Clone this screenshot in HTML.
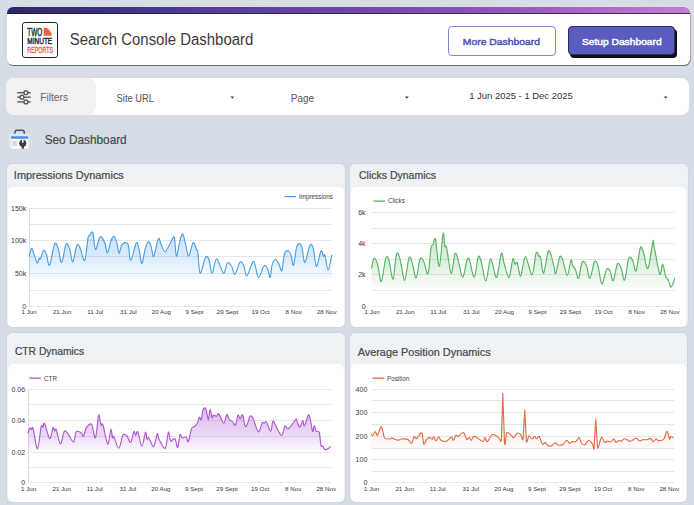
<!DOCTYPE html>
<html><head><meta charset="utf-8">
<style>
*{margin:0;padding:0;box-sizing:border-box}
html,body{width:694px;height:505px;overflow:hidden;background:#d6dde6;font-family:"Liberation Sans",sans-serif}
.abs{position:absolute}
#hdr{left:7px;top:7px;width:682.5px;height:58px;background:#fff;border-radius:6px;overflow:hidden;box-shadow:0.5px 1px 0.5px rgba(0,0,0,0.5)}
#hdr .bar{left:0;top:0;width:100%;height:7px;background:linear-gradient(90deg,#2c2966 0%,#3a3380 14%,#553d98 29%,#7048a8 52%,#9456b8 72%,#c47bd5 100%);border-bottom:1px solid rgba(30,25,50,0.75)}
#logo{left:22px;top:22px;width:36px;height:36px;border:1.5px solid #24232b;border-radius:3px;background:#fff}
#title{left:70px;top:28px;font-size:16px;color:#333;white-space:nowrap;letter-spacing:0px}
.btn1{left:448px;top:26px;width:108px;height:30px;border:1px solid #8084d4;border-radius:4px;color:#4d51b5;font-weight:bold;font-size:11px;text-align:center;line-height:28px}
.btn2{left:568px;top:26px;width:107px;height:29px;background:#5a5cc0;border:1px solid #2b2b55;border-radius:4px;color:#fff;font-weight:bold;font-size:11px;text-align:center;line-height:27px;box-shadow:2px 3px 0 #111}
#fbar{left:6px;top:78px;width:683px;height:37px;background:#fff;border-radius:8px}
#fsec{left:6px;top:78px;width:90px;height:37px;background:#f1f1f1;border-radius:8px}
.ft{font-size:10px;color:#555;white-space:nowrap}
.card{background:#eff2f5;border-radius:5px;box-shadow:0 0 1.5px rgba(0,0,0,0.15)}
.panel{background:#fff;border-radius:5px}
.ct{font-size:11.5px;color:#3c3c3c;white-space:nowrap}
svg text{font-family:"Liberation Sans",sans-serif}
.g{stroke:#e6e6e6;stroke-width:1}
.ax{stroke:#dcdcdc;stroke-width:1}
.yl{font-size:7px;fill:#383838;text-anchor:end}
.xl{font-size:6.2px;fill:#383838;text-anchor:middle}
.lg{font-size:6.3px;fill:#444}
</style></head><body>
<div id="hdr" class="abs"><div class="bar abs"></div></div>
<div id="logo" class="abs"></div>



<div id="fbar" class="abs"></div>
<div id="fsec" class="abs"></div>
<div class="abs btn1"></div>
<div class="abs btn2"></div>


<div class="abs card" style="left:7px;top:164px;width:338px;height:163px"></div>
<div class="abs panel" style="left:8px;top:187px;width:336px;height:140px"></div>
<div class="abs card" style="left:350px;top:164px;width:337.6px;height:163px"></div>
<div class="abs panel" style="left:351px;top:187px;width:335.4px;height:140px"></div>
<div class="abs card" style="left:7px;top:333px;width:338px;height:169px"></div>
<div class="abs panel" style="left:8px;top:364px;width:336px;height:138px"></div>
<div class="abs card" style="left:350px;top:333px;width:337.4px;height:169px"></div>
<div class="abs panel" style="left:351px;top:364px;width:335.2px;height:138px"></div>

<svg class="abs" style="left:0;top:0" width="694" height="505" viewBox="0 0 694 505">
<text x="27.3" y="35.5" font-size="11.6" font-weight="normal" stroke="#222" stroke-width="0.45" fill="#222" textLength="14.9" lengthAdjust="spacingAndGlyphs">TWO</text>
<path d="M43.6 35.8 V27.6 A8.2 8.2 0 0 1 51.8 35.8 Z" fill="#e8643a"/>
<text x="27.3" y="44.3" font-size="9.9" font-weight="normal" stroke="#222" stroke-width="0.45" fill="#222" textLength="24.9" lengthAdjust="spacingAndGlyphs">MINUTE</text>
<text x="27.3" y="53" font-size="9.8" font-weight="normal" stroke="#e8643a" stroke-width="0.4" fill="#e8643a" textLength="25.7" lengthAdjust="spacingAndGlyphs">REPORTS</text>
<g stroke="#5c5c5c" stroke-width="1.4" fill="none">
<line x1="17.2" y1="92.7" x2="30.7" y2="92.7"/><line x1="17.2" y1="97.2" x2="30.7" y2="97.2"/><line x1="17.2" y1="101.9" x2="30.7" y2="101.9"/>
<circle cx="25.9" cy="92.7" r="1.9" fill="#f1f1f1"/><circle cx="22" cy="97.2" r="1.9" fill="#f1f1f1"/><circle cx="25.9" cy="101.9" r="1.9" fill="#f1f1f1"/>
</g>
<path d="M230.4 96.6 h4 l-2 2.2 z" fill="#444"/>
<path d="M404.8 96.6 h4 l-2 2.2 z" fill="#444"/>
<path d="M663.6 96.6 h4 l-2 2.2 z" fill="#444"/>
<path d="M14.9 134 v-1.6 a2.2 2.2 0 0 1 2.2 -2.2 h5 a2.2 2.2 0 0 1 2.2 2.2 v1.6" stroke="#505050" stroke-width="1.5" fill="none"/>
<rect x="8.7" y="133.8" width="21.2" height="14.9" rx="0.8" fill="#e4e6e9"/>
<rect x="11.1" y="136.2" width="17" height="12.5" fill="#fbfbfc"/>
<rect x="11.1" y="136.2" width="17" height="2.6" fill="#4b8fe6"/>
<rect x="12.2" y="140.7" width="4.8" height="5.6" fill="#dadcdf"/>
<circle cx="22.8" cy="143.2" r="3.5" fill="#3c3c3c"/>
<rect x="22" y="139.4" width="1.6" height="3.2" fill="#fbfbfc"/>
<rect x="21.7" y="144" width="2.2" height="4.7" fill="#3c3c3c"/>
<line x1="29.1" y1="208.5" x2="331.7" y2="208.5" class="g"/>
<line x1="29.1" y1="224.5" x2="331.7" y2="224.5" class="g"/>
<line x1="29.1" y1="240.5" x2="331.7" y2="240.5" class="g"/>
<line x1="29.1" y1="256.5" x2="331.7" y2="256.5" class="g"/>
<line x1="29.1" y1="273.5" x2="331.7" y2="273.5" class="g"/>
<line x1="29.1" y1="290.5" x2="331.7" y2="290.5" class="g"/>
<line x1="29.1" y1="306.5" x2="331.7" y2="306.5" class="g"/>
<line x1="29.5" y1="208" x2="29.5" y2="307" class="ax"/>
<linearGradient id="gi" gradientUnits="userSpaceOnUse" x1="0" y1="232.7" x2="0" y2="277.7"><stop offset="0" stop-color="#4a9fe8" stop-opacity="0.300"/><stop offset="0.55" stop-color="#4a9fe8" stop-opacity="0.200"/><stop offset="1" stop-color="#4a9fe8" stop-opacity="0.045"/></linearGradient>
<path d="M29.2 256.5 C29.6 255.2 30.7 248.9 31.5 248.5 C32.3 248.1 32.9 251.7 33.9 254.1 C34.9 256.5 36.3 262.1 37.2 262.8 C38.1 263.5 38.8 258.8 39.3 258.1 C39.8 257.5 39.8 260.1 40.5 258.9 C41.2 257.6 42.4 251.4 43.4 250.6 C44.4 249.8 45.4 251.7 46.4 254.1 C47.4 256.5 48.2 266.9 49.6 265.2 C51 263.5 53.2 246.5 54.7 243.8 C56.2 241.1 57.1 245.7 58.3 248.8 C59.4 251.9 60.3 263.2 61.6 262.5 C62.9 261.8 64.7 246.6 66 244.3 C67.3 242 68.5 245.9 69.6 248.8 C70.7 251.7 71.6 262.4 72.8 261.9 C74 261.4 75.5 248.3 76.7 245.8 C77.9 243.3 78.4 244.6 79.7 247 C81 249.4 83.3 261.8 84.7 260.3 C86.1 258.8 87.2 242.3 88 238.1 C88.8 233.9 89 236 89.8 235.1 C90.6 234.2 91.8 230.3 92.8 232.7 C93.8 235.1 94.3 248.7 95.5 249.4 C96.7 250.1 98.5 237.8 100.1 236.7 C101.6 235.6 103.6 240.1 104.8 242.8 C106 245.5 106.4 253.1 107.4 252.9 C108.4 252.7 109.7 244.4 110.7 241.6 C111.8 238.8 112.7 236.3 113.7 236.3 C114.7 236.3 115.7 238.8 116.6 241.6 C117.5 244.4 118.1 252.8 119 253.3 C119.9 253.8 120.5 246.2 122 244.6 C123.5 243 126.5 241.2 127.9 243.8 C129.3 246.4 129.3 260.6 130.7 260.4 C132.1 260.2 134.9 244.5 136.3 242.8 C137.7 241.1 138.3 246.5 139.2 250 C140.1 253.5 140.9 263.8 141.9 263.6 C142.9 263.4 144.1 252.4 145.2 248.8 C146.3 245.2 147.5 242.3 148.5 241.9 C149.5 241.5 150.2 244 151.1 246.4 C152 248.8 152.5 257.8 153.7 256.5 C154.9 255.2 157.1 240.7 158.3 238.7 C159.6 236.7 160 242.4 161.2 244.6 C162.3 246.8 163.5 252.4 165.2 251.8 C166.9 251.2 169.8 243.5 171.3 241.1 C172.8 238.7 173.5 235 174.3 237.5 C175.2 240 175.5 255.6 176.4 256.2 C177.3 256.8 178.8 244.8 179.8 241.1 C180.9 237.4 181.7 233.3 182.7 233.9 C183.7 234.5 184.7 240.9 185.7 244.6 C186.7 248.3 187.5 256.5 188.7 256.2 C189.9 255.9 191.8 243.9 193.1 242.8 C194.4 241.7 195.6 247.8 196.4 249.4 C197.2 251 197.2 248.3 197.8 252.3 C198.4 256.3 198.9 272.3 200.2 273.2 C201.4 274.1 203.9 260 205.3 257.7 C206.8 255.4 207.8 256.9 208.9 259.5 C210 262.1 210.8 273.3 212.1 273.2 C213.4 273.1 214.7 258.9 216.6 258.9 C218.5 258.9 221.7 272.5 223.5 273.2 C225.3 273.9 226 264 227.3 262.8 C228.6 261.6 230.2 264.1 231.5 266 C232.8 267.9 233.6 275 235 274.3 C236.4 273.6 238.7 263.2 240.2 261.9 C241.7 260.6 242.9 264.3 244 266.6 C245.1 268.9 245.4 276.7 246.9 275.9 C248.4 275.1 251.5 263.2 252.9 261.6 C254.3 260.1 254.6 263.9 255.5 266.6 C256.4 269.3 257.2 277.7 258.6 277.7 C260 277.7 262.3 268 263.7 266.4 C265.1 264.8 266 266.1 267.1 267.9 C268.2 269.7 269.4 277.8 270.2 277.4 C271 277 271.1 268.4 272 265.4 C272.9 262.4 274.4 259.8 275.5 259.5 C276.6 259.2 277.8 261.7 278.8 263.6 C279.9 265.5 280.9 272.4 281.8 270.9 C282.7 269.4 283.3 257.8 284.3 254.4 C285.3 251 286.9 250.6 288 250.7 C289.1 250.8 290.1 252.6 291 255 C291.9 257.4 292.6 266.4 293.5 265.2 C294.4 264 295.5 251.3 296.5 247.7 C297.5 244.1 298.7 243.6 299.6 243.6 C300.5 243.6 301.1 244.6 302 247.7 C302.9 250.8 303.6 262.8 304.9 262.4 C306.2 262 308.4 248 309.8 245.6 C311.2 243.2 312 244.2 313.1 247.7 C314.2 251.2 315.1 265.8 316.4 266.4 C317.7 266.9 319.8 252.7 321 251 C322.2 249.3 322.8 255.4 323.5 256.2 C324.2 257 324.2 253.3 325 255.6 C325.8 257.9 327 270.2 328.1 270.1 C329.2 270 331.2 257.5 331.8 255 L331.8 278.2 L29.2 278.2 Z" fill="url(#gi)" stroke="none"/>
<path d="M29.2 256.5 C29.6 255.2 30.7 248.9 31.5 248.5 C32.3 248.1 32.9 251.7 33.9 254.1 C34.9 256.5 36.3 262.1 37.2 262.8 C38.1 263.5 38.8 258.8 39.3 258.1 C39.8 257.5 39.8 260.1 40.5 258.9 C41.2 257.6 42.4 251.4 43.4 250.6 C44.4 249.8 45.4 251.7 46.4 254.1 C47.4 256.5 48.2 266.9 49.6 265.2 C51 263.5 53.2 246.5 54.7 243.8 C56.2 241.1 57.1 245.7 58.3 248.8 C59.4 251.9 60.3 263.2 61.6 262.5 C62.9 261.8 64.7 246.6 66 244.3 C67.3 242 68.5 245.9 69.6 248.8 C70.7 251.7 71.6 262.4 72.8 261.9 C74 261.4 75.5 248.3 76.7 245.8 C77.9 243.3 78.4 244.6 79.7 247 C81 249.4 83.3 261.8 84.7 260.3 C86.1 258.8 87.2 242.3 88 238.1 C88.8 233.9 89 236 89.8 235.1 C90.6 234.2 91.8 230.3 92.8 232.7 C93.8 235.1 94.3 248.7 95.5 249.4 C96.7 250.1 98.5 237.8 100.1 236.7 C101.6 235.6 103.6 240.1 104.8 242.8 C106 245.5 106.4 253.1 107.4 252.9 C108.4 252.7 109.7 244.4 110.7 241.6 C111.8 238.8 112.7 236.3 113.7 236.3 C114.7 236.3 115.7 238.8 116.6 241.6 C117.5 244.4 118.1 252.8 119 253.3 C119.9 253.8 120.5 246.2 122 244.6 C123.5 243 126.5 241.2 127.9 243.8 C129.3 246.4 129.3 260.6 130.7 260.4 C132.1 260.2 134.9 244.5 136.3 242.8 C137.7 241.1 138.3 246.5 139.2 250 C140.1 253.5 140.9 263.8 141.9 263.6 C142.9 263.4 144.1 252.4 145.2 248.8 C146.3 245.2 147.5 242.3 148.5 241.9 C149.5 241.5 150.2 244 151.1 246.4 C152 248.8 152.5 257.8 153.7 256.5 C154.9 255.2 157.1 240.7 158.3 238.7 C159.6 236.7 160 242.4 161.2 244.6 C162.3 246.8 163.5 252.4 165.2 251.8 C166.9 251.2 169.8 243.5 171.3 241.1 C172.8 238.7 173.5 235 174.3 237.5 C175.2 240 175.5 255.6 176.4 256.2 C177.3 256.8 178.8 244.8 179.8 241.1 C180.9 237.4 181.7 233.3 182.7 233.9 C183.7 234.5 184.7 240.9 185.7 244.6 C186.7 248.3 187.5 256.5 188.7 256.2 C189.9 255.9 191.8 243.9 193.1 242.8 C194.4 241.7 195.6 247.8 196.4 249.4 C197.2 251 197.2 248.3 197.8 252.3 C198.4 256.3 198.9 272.3 200.2 273.2 C201.4 274.1 203.9 260 205.3 257.7 C206.8 255.4 207.8 256.9 208.9 259.5 C210 262.1 210.8 273.3 212.1 273.2 C213.4 273.1 214.7 258.9 216.6 258.9 C218.5 258.9 221.7 272.5 223.5 273.2 C225.3 273.9 226 264 227.3 262.8 C228.6 261.6 230.2 264.1 231.5 266 C232.8 267.9 233.6 275 235 274.3 C236.4 273.6 238.7 263.2 240.2 261.9 C241.7 260.6 242.9 264.3 244 266.6 C245.1 268.9 245.4 276.7 246.9 275.9 C248.4 275.1 251.5 263.2 252.9 261.6 C254.3 260.1 254.6 263.9 255.5 266.6 C256.4 269.3 257.2 277.7 258.6 277.7 C260 277.7 262.3 268 263.7 266.4 C265.1 264.8 266 266.1 267.1 267.9 C268.2 269.7 269.4 277.8 270.2 277.4 C271 277 271.1 268.4 272 265.4 C272.9 262.4 274.4 259.8 275.5 259.5 C276.6 259.2 277.8 261.7 278.8 263.6 C279.9 265.5 280.9 272.4 281.8 270.9 C282.7 269.4 283.3 257.8 284.3 254.4 C285.3 251 286.9 250.6 288 250.7 C289.1 250.8 290.1 252.6 291 255 C291.9 257.4 292.6 266.4 293.5 265.2 C294.4 264 295.5 251.3 296.5 247.7 C297.5 244.1 298.7 243.6 299.6 243.6 C300.5 243.6 301.1 244.6 302 247.7 C302.9 250.8 303.6 262.8 304.9 262.4 C306.2 262 308.4 248 309.8 245.6 C311.2 243.2 312 244.2 313.1 247.7 C314.2 251.2 315.1 265.8 316.4 266.4 C317.7 266.9 319.8 252.7 321 251 C322.2 249.3 322.8 255.4 323.5 256.2 C324.2 257 324.2 253.3 325 255.6 C325.8 257.9 327 270.2 328.1 270.1 C329.2 270 331.2 257.5 331.8 255" fill="none" stroke="#4a9fe8" stroke-width="1.15" stroke-linejoin="round"/>
<text x="26.2" y="210.5" class="yl">150k</text>
<text x="26.2" y="243.2" class="yl">100k</text>
<text x="26.2" y="276.2" class="yl">50k</text>
<text x="26.2" y="308.7" class="yl">0</text>
<text x="29.1" y="313.6" class="xl">1 Jun</text>
<text x="62.2" y="313.6" class="xl">21 Jun</text>
<text x="95.2" y="313.6" class="xl">11 Jul</text>
<text x="128.3" y="313.6" class="xl">31 Jul</text>
<text x="161.4" y="313.6" class="xl">20 Aug</text>
<text x="194.5" y="313.6" class="xl">9 Sept</text>
<text x="227.5" y="313.6" class="xl">29 Sept</text>
<text x="260.6" y="313.6" class="xl">19 Oct</text>
<text x="293.7" y="313.6" class="xl">8 Nov</text>
<text x="326.7" y="313.6" class="xl">28 Nov</text>
<line x1="284.5" y1="196.6" x2="296" y2="196.6" stroke="#4a9fe8" stroke-width="1.3"/>
<text x="299" y="198.9" class="lg">Impressions</text>
<line x1="372.1" y1="212.5" x2="674.7" y2="212.5" class="g"/>
<line x1="372.1" y1="228.5" x2="674.7" y2="228.5" class="g"/>
<line x1="372.1" y1="243.5" x2="674.7" y2="243.5" class="g"/>
<line x1="372.1" y1="259.5" x2="674.7" y2="259.5" class="g"/>
<line x1="372.1" y1="274.5" x2="674.7" y2="274.5" class="g"/>
<line x1="372.1" y1="290.5" x2="674.7" y2="290.5" class="g"/>
<line x1="372.1" y1="306.5" x2="674.7" y2="306.5" class="g"/>
<linearGradient id="gc" gradientUnits="userSpaceOnUse" x1="0" y1="233.6" x2="0" y2="287.1"><stop offset="0" stop-color="#55b463" stop-opacity="0.300"/><stop offset="0.55" stop-color="#55b463" stop-opacity="0.200"/><stop offset="1" stop-color="#55b463" stop-opacity="0.045"/></linearGradient>
<path d="M371.6 268.4 C372 266.7 372.9 259 373.9 258.3 C374.9 257.6 376.3 260.3 377.5 264.2 C378.7 268.1 379.9 282.4 381.3 281.5 C382.7 280.6 384.4 262.6 385.6 258.9 C386.9 255.2 387.6 256.1 388.8 259.5 C390 262.9 391.7 280 393 279.1 C394.3 278.2 395.3 257.4 396.5 254.1 C397.7 250.8 398.8 255.1 400.1 259.5 C401.5 263.9 403.1 280.6 404.6 280.3 C406.1 280 407.7 260.4 409 257.7 C410.3 255 411.4 260.8 412.6 264.2 C413.8 267.6 414.9 278.8 416.2 277.9 C417.4 277 418.8 261.6 420.1 258.9 C421.4 256.2 422.6 259.4 423.9 261.9 C425.2 264.4 426.8 276.1 428 273.8 C429.2 271.5 430.1 253.2 431 248.2 C431.9 243.2 432.4 245.4 433.2 244 C433.9 242.6 434.5 235.8 435.5 239.5 C436.5 243.2 438 267.4 439.3 266.4 C440.6 265.4 442.2 236.9 443.1 233.6 C444 230.3 444.2 244.1 444.8 246.4 C445.4 248.7 445.6 243.1 446.6 247.6 C447.7 252.1 449.7 272.1 451.1 273.2 C452.5 274.3 453.8 256.5 454.9 254.1 C456 251.7 456.6 255 457.9 258.9 C459.2 262.8 461.1 277 462.6 277.3 C464.1 277.6 465.7 263.6 466.8 260.7 C467.9 257.8 468.2 256.9 469.4 259.7 C470.6 262.5 472.8 277.7 474.2 277.3 C475.6 276.9 477 260.1 478.1 257.3 C479.2 254.5 479.7 256.8 481 260.7 C482.3 264.6 484.3 281 485.8 280.9 C487.3 280.8 488.9 263.1 490 260.1 C491.1 257.1 491.2 260.1 492.3 263 C493.4 265.9 495.2 278.9 496.7 277.3 C498.2 275.7 500.1 255.8 501.3 253.5 C502.6 251.2 502.9 259.6 504.2 263.6 C505.5 267.6 507.6 278.1 509 277.3 C510.4 276.5 511.9 261.1 512.9 258.9 C513.9 256.7 514.2 263.5 514.9 264.2 C515.6 264.9 516.3 260.8 517.3 262.8 C518.3 264.8 519.4 277.2 520.7 276.1 C522.1 275.1 523.5 256.7 525.4 256.5 C527.3 256.3 530.2 275.3 532 274.7 C533.8 274.1 534.9 255.9 536.1 252.9 C537.3 249.9 538.5 255.8 539.2 256.5 C540 257.2 539.9 254.3 540.6 257.1 C541.3 259.9 542.4 274 543.6 273.2 C544.8 272.4 546.8 255.3 548 252.1 C549.2 248.9 549.8 251.9 550.7 254.1 C551.7 256.3 552.9 262.2 553.7 265.4 C554.6 268.6 554.8 274.9 555.8 273.5 C556.8 272.1 558.5 259.6 559.6 257.3 C560.7 255 561.3 256.5 562.6 259.5 C563.9 262.5 565.9 275.4 567.3 275.5 C568.7 275.6 570 261.8 570.9 260.1 C571.8 258.4 571.9 263.7 572.7 265.4 C573.5 267.1 574.7 268 575.7 270.2 C576.7 272.4 577.5 279.6 578.6 278.3 C579.7 277 580.9 264.2 582.2 262.1 C583.5 260 585.1 262.7 586.4 265.4 C587.7 268.1 588.5 278.9 589.9 278.3 C591.2 277.7 593.2 264 594.5 261.9 C595.8 259.8 596.7 261.8 597.9 265.4 C599.1 269 600.4 283.1 601.8 283.8 C603.2 284.5 605.1 271.9 606.5 269.7 C607.9 267.5 609 269.1 610.1 270.9 C611.2 272.7 612 281.9 613.2 280.7 C614.4 279.5 616.2 265.9 617.5 263.9 C618.8 261.9 620 265.8 621.2 268.5 C622.4 271.2 623.3 281.8 624.6 280.1 C625.9 278.4 627.4 261.5 628.8 258.3 C630.2 255.1 631.6 258.7 632.8 260.8 C634 262.9 634.9 273 636.1 270.9 C637.3 268.8 639 251.6 640.2 248.3 C641.4 245 641.9 247.9 643.2 251.3 C644.5 254.7 646.3 270.1 647.9 268.5 C649.5 266.9 651.8 245.5 652.8 241.9 C653.8 238.3 653.1 241.7 654.2 247 C655.4 252.3 658.3 271 659.7 273.9 C661.1 276.8 661.7 263.8 662.7 264.2 C663.7 264.6 664.7 273.9 665.7 276.6 C666.7 279.4 667.7 278.9 668.6 280.7 C669.5 282.4 670 287.6 671.1 287.1 C672.2 286.6 674.4 279.3 675 277.7 L675 287.6 L371.6 287.6 Z" fill="url(#gc)" stroke="none"/>
<path d="M371.6 268.4 C372 266.7 372.9 259 373.9 258.3 C374.9 257.6 376.3 260.3 377.5 264.2 C378.7 268.1 379.9 282.4 381.3 281.5 C382.7 280.6 384.4 262.6 385.6 258.9 C386.9 255.2 387.6 256.1 388.8 259.5 C390 262.9 391.7 280 393 279.1 C394.3 278.2 395.3 257.4 396.5 254.1 C397.7 250.8 398.8 255.1 400.1 259.5 C401.5 263.9 403.1 280.6 404.6 280.3 C406.1 280 407.7 260.4 409 257.7 C410.3 255 411.4 260.8 412.6 264.2 C413.8 267.6 414.9 278.8 416.2 277.9 C417.4 277 418.8 261.6 420.1 258.9 C421.4 256.2 422.6 259.4 423.9 261.9 C425.2 264.4 426.8 276.1 428 273.8 C429.2 271.5 430.1 253.2 431 248.2 C431.9 243.2 432.4 245.4 433.2 244 C433.9 242.6 434.5 235.8 435.5 239.5 C436.5 243.2 438 267.4 439.3 266.4 C440.6 265.4 442.2 236.9 443.1 233.6 C444 230.3 444.2 244.1 444.8 246.4 C445.4 248.7 445.6 243.1 446.6 247.6 C447.7 252.1 449.7 272.1 451.1 273.2 C452.5 274.3 453.8 256.5 454.9 254.1 C456 251.7 456.6 255 457.9 258.9 C459.2 262.8 461.1 277 462.6 277.3 C464.1 277.6 465.7 263.6 466.8 260.7 C467.9 257.8 468.2 256.9 469.4 259.7 C470.6 262.5 472.8 277.7 474.2 277.3 C475.6 276.9 477 260.1 478.1 257.3 C479.2 254.5 479.7 256.8 481 260.7 C482.3 264.6 484.3 281 485.8 280.9 C487.3 280.8 488.9 263.1 490 260.1 C491.1 257.1 491.2 260.1 492.3 263 C493.4 265.9 495.2 278.9 496.7 277.3 C498.2 275.7 500.1 255.8 501.3 253.5 C502.6 251.2 502.9 259.6 504.2 263.6 C505.5 267.6 507.6 278.1 509 277.3 C510.4 276.5 511.9 261.1 512.9 258.9 C513.9 256.7 514.2 263.5 514.9 264.2 C515.6 264.9 516.3 260.8 517.3 262.8 C518.3 264.8 519.4 277.2 520.7 276.1 C522.1 275.1 523.5 256.7 525.4 256.5 C527.3 256.3 530.2 275.3 532 274.7 C533.8 274.1 534.9 255.9 536.1 252.9 C537.3 249.9 538.5 255.8 539.2 256.5 C540 257.2 539.9 254.3 540.6 257.1 C541.3 259.9 542.4 274 543.6 273.2 C544.8 272.4 546.8 255.3 548 252.1 C549.2 248.9 549.8 251.9 550.7 254.1 C551.7 256.3 552.9 262.2 553.7 265.4 C554.6 268.6 554.8 274.9 555.8 273.5 C556.8 272.1 558.5 259.6 559.6 257.3 C560.7 255 561.3 256.5 562.6 259.5 C563.9 262.5 565.9 275.4 567.3 275.5 C568.7 275.6 570 261.8 570.9 260.1 C571.8 258.4 571.9 263.7 572.7 265.4 C573.5 267.1 574.7 268 575.7 270.2 C576.7 272.4 577.5 279.6 578.6 278.3 C579.7 277 580.9 264.2 582.2 262.1 C583.5 260 585.1 262.7 586.4 265.4 C587.7 268.1 588.5 278.9 589.9 278.3 C591.2 277.7 593.2 264 594.5 261.9 C595.8 259.8 596.7 261.8 597.9 265.4 C599.1 269 600.4 283.1 601.8 283.8 C603.2 284.5 605.1 271.9 606.5 269.7 C607.9 267.5 609 269.1 610.1 270.9 C611.2 272.7 612 281.9 613.2 280.7 C614.4 279.5 616.2 265.9 617.5 263.9 C618.8 261.9 620 265.8 621.2 268.5 C622.4 271.2 623.3 281.8 624.6 280.1 C625.9 278.4 627.4 261.5 628.8 258.3 C630.2 255.1 631.6 258.7 632.8 260.8 C634 262.9 634.9 273 636.1 270.9 C637.3 268.8 639 251.6 640.2 248.3 C641.4 245 641.9 247.9 643.2 251.3 C644.5 254.7 646.3 270.1 647.9 268.5 C649.5 266.9 651.8 245.5 652.8 241.9 C653.8 238.3 653.1 241.7 654.2 247 C655.4 252.3 658.3 271 659.7 273.9 C661.1 276.8 661.7 263.8 662.7 264.2 C663.7 264.6 664.7 273.9 665.7 276.6 C666.7 279.4 667.7 278.9 668.6 280.7 C669.5 282.4 670 287.6 671.1 287.1 C672.2 286.6 674.4 279.3 675 277.7" fill="none" stroke="#55b463" stroke-width="1.15" stroke-linejoin="round"/>
<text x="365.6" y="214.7" class="yl">6k</text>
<text x="365.6" y="246" class="yl">4k</text>
<text x="365.6" y="277.1" class="yl">2k</text>
<text x="365.6" y="308.7" class="yl">0</text>
<text x="372.1" y="313.6" class="xl">1 Jun</text>
<text x="405.2" y="313.6" class="xl">21 Jun</text>
<text x="438.2" y="313.6" class="xl">11 Jul</text>
<text x="471.3" y="313.6" class="xl">31 Jul</text>
<text x="504.4" y="313.6" class="xl">20 Aug</text>
<text x="537.5" y="313.6" class="xl">9 Sept</text>
<text x="570.5" y="313.6" class="xl">29 Sept</text>
<text x="603.6" y="313.6" class="xl">19 Oct</text>
<text x="636.7" y="313.6" class="xl">8 Nov</text>
<text x="669.7" y="313.6" class="xl">28 Nov</text>
<line x1="373.5" y1="201.1" x2="385" y2="201.1" stroke="#55b463" stroke-width="1.3"/>
<text x="388" y="203.4" class="lg">Clicks</text>
<line x1="28.6" y1="389.5" x2="331.2" y2="389.5" class="g"/>
<line x1="28.6" y1="404.5" x2="331.2" y2="404.5" class="g"/>
<line x1="28.6" y1="420.5" x2="331.2" y2="420.5" class="g"/>
<line x1="28.6" y1="436.5" x2="331.2" y2="436.5" class="g"/>
<line x1="28.6" y1="452.5" x2="331.2" y2="452.5" class="g"/>
<line x1="28.6" y1="467.5" x2="331.2" y2="467.5" class="g"/>
<line x1="28.6" y1="482.5" x2="331.2" y2="482.5" class="g"/>
<line x1="28.5" y1="389" x2="28.5" y2="483" class="ax"/>
<linearGradient id="gt" gradientUnits="userSpaceOnUse" x1="0" y1="408.6" x2="0" y2="449.6"><stop offset="0" stop-color="#ad58d0" stop-opacity="0.390"/><stop offset="0.55" stop-color="#ad58d0" stop-opacity="0.260"/><stop offset="1" stop-color="#ad58d0" stop-opacity="0.058"/></linearGradient>
<path d="M28 433.3 C28.3 432.4 29.2 428.5 29.8 427.9 C30.4 427.3 30.9 429.4 31.5 429.5 C32 429.6 32.1 425.3 33.1 428.5 C34.1 431.7 36.2 449.1 37.5 448.8 C38.8 448.5 40.2 430.4 41.1 426.8 C42 423.2 42.2 427.9 42.8 427.3 C43.4 426.8 43.5 421.6 44.6 423.5 C45.8 425.4 48.3 437.9 49.7 438.6 C51.1 439.3 52.2 429.2 53 427.9 C53.8 426.6 54.2 430.6 54.7 430.9 C55.2 431.2 55.2 427.5 56.2 429.7 C57.2 431.9 59.1 443.7 60.4 444 C61.7 444.3 63 433.3 64.2 431.5 C65.4 429.7 66.2 431.5 67.8 433.3 C69.3 435.1 72.1 442.4 73.5 442.2 C74.9 442 74.9 433.5 76.1 431.9 C77.3 430.3 79.7 432 80.9 432.7 C82.1 433.4 82.6 437.1 83.5 436.3 C84.4 435.5 84.9 429.9 86.2 427.9 C87.5 425.9 90.1 422.8 91.6 424.4 C93.1 426 94.2 439.3 95.4 437.8 C96.6 436.3 97.7 418.4 98.5 415.5 C99.3 412.6 99.5 418.6 100 420.2 C100.5 421.8 100.7 424.2 101.2 425 C101.7 425.8 101.9 421.8 103 425 C104.1 428.2 106.4 443.4 107.7 444.2 C109 445 110.1 430.8 110.9 429.7 C111.7 428.6 112 436.4 112.5 437.5 C113 438.6 112.7 434.8 113.7 436.6 C114.8 438.4 117.3 448.4 118.8 448.2 C120.3 448 121.6 438 122.6 435.7 C123.6 433.4 124.2 434.4 125 434.5 C125.8 434.6 126.3 435 127.3 436.3 C128.2 437.6 129.6 443 130.7 442.2 C131.8 441.4 133.1 432.6 133.9 431.5 C134.7 430.4 135 435.3 135.7 435.4 C136.3 435.5 136.8 430.1 137.8 431.9 C138.8 433.7 140.6 446 141.9 446.1 C143.2 446.2 144.6 433.5 145.4 432.3 C146.2 431.1 146.4 438.3 147 439.2 C147.6 440.1 147.7 436.6 148.8 437.8 C149.9 439 152.1 447.2 153.5 446.6 C154.9 446 156.4 435.2 157.3 433.9 C158.2 432.6 157.6 436.6 158.9 439 C160.2 441.4 163.6 449.3 165.2 448.2 C166.8 447.1 167.5 433.3 168.4 432.1 C169.3 430.9 169.6 439.9 170.7 441 C171.8 442.1 173.7 437.5 174.9 438.6 C176.1 439.7 176.8 448.2 177.7 447.6 C178.5 447 179.3 436.3 180 434.7 C180.7 433.1 181 437.4 182.1 437.8 C183.2 438.2 185.3 436.5 186.3 437.1 C187.3 437.7 187.4 443 188.3 441.6 C189.2 440.2 190.7 431 191.6 428.5 C192.5 426 193.1 427.6 194 426.8 C194.9 426 196.1 425.4 197 423.8 C197.9 422.2 198.7 417.9 199.4 417.2 C200.1 416.5 200.6 420.8 201.2 419.6 C201.8 418.4 202.2 411.9 202.9 410.1 C203.7 408.3 204.8 407 205.7 408.6 C206.6 410.2 207.6 419.5 208.3 419.6 C209 419.8 209.5 409.8 210.1 409.5 C210.7 409.2 211.6 416.9 212.1 417.8 C212.6 418.8 212.6 415.5 213.3 415.2 C214.1 414.9 215.7 416.3 216.6 416.1 C217.5 415.9 217.6 412.8 218.8 414 C220 415.2 222.5 423.1 223.8 423.2 C225.1 423.3 225.8 415.2 226.7 414.5 C227.6 413.8 228.1 417.8 229.1 419 C230.1 420.2 231.6 421 232.7 422 C233.8 423 234.5 426.3 235.4 425.2 C236.3 424.1 237.2 416.2 238 415.2 C238.8 414.2 239.4 419.1 240.2 419 C240.9 418.9 241.7 413.7 242.5 414.9 C243.3 416.1 244.4 424.7 245.2 426.2 C246 427.7 246.7 425.4 247.5 423.8 C248.3 422.2 249 417.3 249.9 416.4 C250.8 415.5 251.7 415.8 253.1 418.4 C254.5 421 256.8 431.1 258.3 431.8 C259.8 432.5 261.2 424.1 262.2 422.7 C263.2 421.3 263.4 423.4 264.1 423.3 C264.8 423.2 265.4 420.7 266.5 422 C267.6 423.3 269.5 431.3 270.6 431.2 C271.7 431.1 272.1 422 273 421.1 C273.9 420.2 274.3 423.3 275.7 425.7 C277.1 428.1 280.1 435.4 281.6 435.5 C283.1 435.6 283.9 427.1 284.9 426 C285.9 424.9 286.6 428.5 287.4 428.8 C288.1 429.1 288.1 429.3 289.4 427.9 C290.7 426.5 294.1 421.6 295.3 420.2 C296.5 418.8 295.8 418.6 296.3 419.4 C296.8 420.2 297.8 423.9 298.4 425.1 C299 426.4 299.5 427.6 300.2 426.9 C300.9 426.1 302 420.8 302.7 420.6 C303.4 420.4 303.4 426.6 304.5 425.7 C305.6 424.8 307.7 414 309 414.9 C310.3 415.8 311.6 429.4 312.5 431.2 C313.4 433 313.7 425.5 314.3 425.5 C314.9 425.5 315.3 430 316.1 431.2 C316.9 432.4 318.4 430.1 319.2 432.5 C320 434.9 320.4 443 321 445.3 C321.6 447.6 322.2 445.6 322.9 446.3 C323.6 447 324.1 449.2 325 449.6 C325.9 450 327.4 448.9 328.4 448.4 C329.4 447.8 330.4 446.6 330.8 446.3 L330.8 450.1 L28 450.1 Z" fill="url(#gt)" stroke="none"/>
<path d="M28 433.3 C28.3 432.4 29.2 428.5 29.8 427.9 C30.4 427.3 30.9 429.4 31.5 429.5 C32 429.6 32.1 425.3 33.1 428.5 C34.1 431.7 36.2 449.1 37.5 448.8 C38.8 448.5 40.2 430.4 41.1 426.8 C42 423.2 42.2 427.9 42.8 427.3 C43.4 426.8 43.5 421.6 44.6 423.5 C45.8 425.4 48.3 437.9 49.7 438.6 C51.1 439.3 52.2 429.2 53 427.9 C53.8 426.6 54.2 430.6 54.7 430.9 C55.2 431.2 55.2 427.5 56.2 429.7 C57.2 431.9 59.1 443.7 60.4 444 C61.7 444.3 63 433.3 64.2 431.5 C65.4 429.7 66.2 431.5 67.8 433.3 C69.3 435.1 72.1 442.4 73.5 442.2 C74.9 442 74.9 433.5 76.1 431.9 C77.3 430.3 79.7 432 80.9 432.7 C82.1 433.4 82.6 437.1 83.5 436.3 C84.4 435.5 84.9 429.9 86.2 427.9 C87.5 425.9 90.1 422.8 91.6 424.4 C93.1 426 94.2 439.3 95.4 437.8 C96.6 436.3 97.7 418.4 98.5 415.5 C99.3 412.6 99.5 418.6 100 420.2 C100.5 421.8 100.7 424.2 101.2 425 C101.7 425.8 101.9 421.8 103 425 C104.1 428.2 106.4 443.4 107.7 444.2 C109 445 110.1 430.8 110.9 429.7 C111.7 428.6 112 436.4 112.5 437.5 C113 438.6 112.7 434.8 113.7 436.6 C114.8 438.4 117.3 448.4 118.8 448.2 C120.3 448 121.6 438 122.6 435.7 C123.6 433.4 124.2 434.4 125 434.5 C125.8 434.6 126.3 435 127.3 436.3 C128.2 437.6 129.6 443 130.7 442.2 C131.8 441.4 133.1 432.6 133.9 431.5 C134.7 430.4 135 435.3 135.7 435.4 C136.3 435.5 136.8 430.1 137.8 431.9 C138.8 433.7 140.6 446 141.9 446.1 C143.2 446.2 144.6 433.5 145.4 432.3 C146.2 431.1 146.4 438.3 147 439.2 C147.6 440.1 147.7 436.6 148.8 437.8 C149.9 439 152.1 447.2 153.5 446.6 C154.9 446 156.4 435.2 157.3 433.9 C158.2 432.6 157.6 436.6 158.9 439 C160.2 441.4 163.6 449.3 165.2 448.2 C166.8 447.1 167.5 433.3 168.4 432.1 C169.3 430.9 169.6 439.9 170.7 441 C171.8 442.1 173.7 437.5 174.9 438.6 C176.1 439.7 176.8 448.2 177.7 447.6 C178.5 447 179.3 436.3 180 434.7 C180.7 433.1 181 437.4 182.1 437.8 C183.2 438.2 185.3 436.5 186.3 437.1 C187.3 437.7 187.4 443 188.3 441.6 C189.2 440.2 190.7 431 191.6 428.5 C192.5 426 193.1 427.6 194 426.8 C194.9 426 196.1 425.4 197 423.8 C197.9 422.2 198.7 417.9 199.4 417.2 C200.1 416.5 200.6 420.8 201.2 419.6 C201.8 418.4 202.2 411.9 202.9 410.1 C203.7 408.3 204.8 407 205.7 408.6 C206.6 410.2 207.6 419.5 208.3 419.6 C209 419.8 209.5 409.8 210.1 409.5 C210.7 409.2 211.6 416.9 212.1 417.8 C212.6 418.8 212.6 415.5 213.3 415.2 C214.1 414.9 215.7 416.3 216.6 416.1 C217.5 415.9 217.6 412.8 218.8 414 C220 415.2 222.5 423.1 223.8 423.2 C225.1 423.3 225.8 415.2 226.7 414.5 C227.6 413.8 228.1 417.8 229.1 419 C230.1 420.2 231.6 421 232.7 422 C233.8 423 234.5 426.3 235.4 425.2 C236.3 424.1 237.2 416.2 238 415.2 C238.8 414.2 239.4 419.1 240.2 419 C240.9 418.9 241.7 413.7 242.5 414.9 C243.3 416.1 244.4 424.7 245.2 426.2 C246 427.7 246.7 425.4 247.5 423.8 C248.3 422.2 249 417.3 249.9 416.4 C250.8 415.5 251.7 415.8 253.1 418.4 C254.5 421 256.8 431.1 258.3 431.8 C259.8 432.5 261.2 424.1 262.2 422.7 C263.2 421.3 263.4 423.4 264.1 423.3 C264.8 423.2 265.4 420.7 266.5 422 C267.6 423.3 269.5 431.3 270.6 431.2 C271.7 431.1 272.1 422 273 421.1 C273.9 420.2 274.3 423.3 275.7 425.7 C277.1 428.1 280.1 435.4 281.6 435.5 C283.1 435.6 283.9 427.1 284.9 426 C285.9 424.9 286.6 428.5 287.4 428.8 C288.1 429.1 288.1 429.3 289.4 427.9 C290.7 426.5 294.1 421.6 295.3 420.2 C296.5 418.8 295.8 418.6 296.3 419.4 C296.8 420.2 297.8 423.9 298.4 425.1 C299 426.4 299.5 427.6 300.2 426.9 C300.9 426.1 302 420.8 302.7 420.6 C303.4 420.4 303.4 426.6 304.5 425.7 C305.6 424.8 307.7 414 309 414.9 C310.3 415.8 311.6 429.4 312.5 431.2 C313.4 433 313.7 425.5 314.3 425.5 C314.9 425.5 315.3 430 316.1 431.2 C316.9 432.4 318.4 430.1 319.2 432.5 C320 434.9 320.4 443 321 445.3 C321.6 447.6 322.2 445.6 322.9 446.3 C323.6 447 324.1 449.2 325 449.6 C325.9 450 327.4 448.9 328.4 448.4 C329.4 447.8 330.4 446.6 330.8 446.3" fill="none" stroke="#ad58d0" stroke-width="1.15" stroke-linejoin="round"/>
<text x="25.1" y="391.7" class="yl">0.06</text>
<text x="25.1" y="423" class="yl">0.04</text>
<text x="25.1" y="454.6" class="yl">0.02</text>
<text x="25.1" y="485.4" class="yl">0</text>
<text x="28.6" y="491.2" class="xl">1 Jun</text>
<text x="61.7" y="491.2" class="xl">21 Jun</text>
<text x="94.7" y="491.2" class="xl">11 Jul</text>
<text x="127.8" y="491.2" class="xl">31 Jul</text>
<text x="160.9" y="491.2" class="xl">20 Aug</text>
<text x="194" y="491.2" class="xl">9 Sept</text>
<text x="227" y="491.2" class="xl">29 Sept</text>
<text x="260.1" y="491.2" class="xl">19 Oct</text>
<text x="293.2" y="491.2" class="xl">8 Nov</text>
<text x="326.2" y="491.2" class="xl">28 Nov</text>
<line x1="29.5" y1="378.2" x2="41" y2="378.2" stroke="#ad58d0" stroke-width="1.3"/>
<text x="44" y="380.5" class="lg">CTR</text>
<line x1="371.6" y1="389.5" x2="674.2" y2="389.5" class="g"/>
<line x1="371.6" y1="400.5" x2="674.2" y2="400.5" class="g"/>
<line x1="371.6" y1="412.5" x2="674.2" y2="412.5" class="g"/>
<line x1="371.6" y1="424.5" x2="674.2" y2="424.5" class="g"/>
<line x1="371.6" y1="436.5" x2="674.2" y2="436.5" class="g"/>
<line x1="371.6" y1="448.5" x2="674.2" y2="448.5" class="g"/>
<line x1="371.6" y1="459.5" x2="674.2" y2="459.5" class="g"/>
<line x1="371.6" y1="471.5" x2="674.2" y2="471.5" class="g"/>
<line x1="371.6" y1="482.5" x2="674.2" y2="482.5" class="g"/>
<linearGradient id="gp" gradientUnits="userSpaceOnUse" x1="0" y1="393.4" x2="0" y2="447.8"><stop offset="0" stop-color="#e86a45" stop-opacity="0.165"/><stop offset="0.55" stop-color="#e86a45" stop-opacity="0.110"/><stop offset="1" stop-color="#e86a45" stop-opacity="0.025"/></linearGradient>
<path d="M370.9 433.9 C371.2 434.2 372.1 435.9 372.8 435.5 C373.5 435.1 374.3 431.6 375.1 431.5 C375.9 431.4 376.5 436 377.5 435.2 C378.5 434.4 380.1 427.3 381 426.8 C381.9 426.3 382.5 430.5 383.1 432.3 C383.7 434.1 383.4 436.7 384.6 437.8 C385.8 438.9 389 439 390.2 439 C391.4 439 391 437.7 391.8 437.8 C392.6 437.9 393.8 439 394.9 439.4 C395.9 439.8 397 440.3 398.1 440.2 C399.2 440.1 399.7 439.1 401.3 439 C402.9 438.9 405.9 438.7 407.6 439.4 C409.3 440.1 410.5 443.8 411.6 443.4 C412.7 442.9 413.2 437.5 414 436.7 C414.8 435.9 415.5 438.8 416.3 438.6 C417.1 438.5 417.8 436.7 418.7 435.8 C419.6 434.9 421 431.7 421.9 433.1 C422.8 434.5 423 443.1 423.8 444.2 C424.6 445.2 425.6 440.5 426.6 439.4 C427.6 438.3 428.9 437.4 429.8 437.4 C430.7 437.4 431.5 439.5 432.2 439.4 C432.9 439.3 433.1 436.4 433.8 436.7 C434.5 437 435.3 441 436.1 441 C436.9 441 437.7 436.8 438.5 436.7 C439.3 436.6 439.6 439.4 440.9 440.2 C442.2 441 444.4 441.8 446.2 441.3 C447.9 440.8 450.2 437.3 451.4 437.1 C452.6 436.9 452.6 440.6 453.3 440.3 C454.1 440 455 435.9 455.9 435.2 C456.8 434.5 457.2 436.9 458.4 436.4 C459.6 435.9 461.9 431.8 463.3 432.3 C464.7 432.8 465.8 438.4 466.8 439.3 C467.8 440.2 468.6 437.3 469.4 437.5 C470.1 437.7 470.6 440.5 471.3 440.3 C472 440.1 472.6 436.8 473.6 436.4 C474.6 436 475.6 436.8 477.1 437.7 C478.7 438.6 481.6 441.6 482.9 441.6 C484.2 441.6 484.1 437.5 484.8 437.5 C485.6 437.5 486.2 442.1 487.4 441.6 C488.6 441.1 490.3 435.2 492.1 434.5 C493.9 433.8 497 436.2 498.3 437.1 C499.6 438 499.7 440 500.2 440 C500.7 440 501.1 444.9 501.5 437.1 L502.8 393.4 L504.5 442.9 C505.1 449.5 505.8 434.7 506.7 433.2 C507.6 431.7 508.7 433.1 509.9 433.9 C511.1 434.6 512.5 437.8 513.7 437.7 C514.9 437.6 515.9 433.7 517 433.2 C518.1 432.7 519.6 433.6 520.6 434.5 C521.6 435.4 522.4 442.5 523.1 438.4 L524.7 410.1 L526.4 441 C527.1 445.3 527.9 436.1 528.9 435.8 C529.9 435.5 531.2 438.9 532.1 439 C533 439.1 533.8 436.4 534.5 436.4 C535.2 436.4 535.8 438.8 536.6 438.8 C537.4 438.8 538.2 435.5 539.2 436.4 C540.2 437.3 541.4 443.2 542.4 444.2 C543.4 445.2 543.9 442.3 545 442.6 C546.1 442.9 547.7 445.6 548.9 446.1 C550.1 446.6 551 446 552.1 445.5 C553.2 445 554.2 442.9 555.3 442.9 C556.4 442.8 557.2 444.9 558.5 445.2 C559.8 445.4 561.6 445.2 563 444.4 C564.4 443.6 565.8 440.4 566.9 440.3 C568 440.2 568.5 443.3 569.4 443.5 C570.2 443.7 570.9 441.9 572 441.6 C573.1 441.3 574.7 442.2 575.9 441.6 C577.1 441 578.1 437.4 579.1 437.7 C580.1 438 580.7 442.3 581.7 443.5 C582.7 444.7 583.7 445.3 584.9 444.8 C586.1 444.3 587.4 440.4 588.7 440.3 C590 440.2 591.7 442.9 592.6 444.2 C593.5 445.4 593.6 452 594.1 447.8 L595.8 419.1 L597.5 447.6 C598.4 450.7 600.2 438.4 601.4 437.5 C602.6 436.6 603.6 441.7 604.6 442.3 C605.6 442.9 606.1 441.5 607.2 441.4 C608.3 441.3 609.9 442.1 611 441.7 C612.1 441.3 612.7 439 613.6 439.1 C614.5 439.2 615.2 442.1 616.2 442.3 C617.2 442.5 618.5 440.5 619.4 440.4 C620.2 440.2 620.5 441.7 621.3 441.4 C622 441.1 622.9 439.1 623.9 438.8 C624.9 438.5 626.1 439.3 627.1 439.7 C628.1 440.1 628.8 441.3 629.7 441.4 C630.6 441.5 631.2 440.9 632.3 440.4 C633.4 439.8 634.9 438 636.1 438.1 C637.3 438.2 638.3 440.7 639.4 441 C640.5 441.3 641.3 439.9 642.6 439.7 C643.9 439.5 645.8 439.9 647.1 439.7 C648.4 439.5 649.2 438.1 650.3 438.4 C651.4 438.7 652.5 441.6 653.5 441.7 C654.5 441.8 655.2 439 656.1 438.8 C657 438.6 657.4 440.6 658.7 440.6 C660 440.7 662.4 440.6 663.8 439.1 C665.2 437.6 666 431.4 667 431.4 C668 431.4 669 438.2 669.6 439.1 C670.2 440 670.2 436.7 670.9 436.5 C671.5 436.3 673.1 437.6 673.5 437.8 L673.5 448.3 L370.9 448.3 Z" fill="url(#gp)" stroke="none"/>
<path d="M370.9 433.9 C371.2 434.2 372.1 435.9 372.8 435.5 C373.5 435.1 374.3 431.6 375.1 431.5 C375.9 431.4 376.5 436 377.5 435.2 C378.5 434.4 380.1 427.3 381 426.8 C381.9 426.3 382.5 430.5 383.1 432.3 C383.7 434.1 383.4 436.7 384.6 437.8 C385.8 438.9 389 439 390.2 439 C391.4 439 391 437.7 391.8 437.8 C392.6 437.9 393.8 439 394.9 439.4 C395.9 439.8 397 440.3 398.1 440.2 C399.2 440.1 399.7 439.1 401.3 439 C402.9 438.9 405.9 438.7 407.6 439.4 C409.3 440.1 410.5 443.8 411.6 443.4 C412.7 442.9 413.2 437.5 414 436.7 C414.8 435.9 415.5 438.8 416.3 438.6 C417.1 438.5 417.8 436.7 418.7 435.8 C419.6 434.9 421 431.7 421.9 433.1 C422.8 434.5 423 443.1 423.8 444.2 C424.6 445.2 425.6 440.5 426.6 439.4 C427.6 438.3 428.9 437.4 429.8 437.4 C430.7 437.4 431.5 439.5 432.2 439.4 C432.9 439.3 433.1 436.4 433.8 436.7 C434.5 437 435.3 441 436.1 441 C436.9 441 437.7 436.8 438.5 436.7 C439.3 436.6 439.6 439.4 440.9 440.2 C442.2 441 444.4 441.8 446.2 441.3 C447.9 440.8 450.2 437.3 451.4 437.1 C452.6 436.9 452.6 440.6 453.3 440.3 C454.1 440 455 435.9 455.9 435.2 C456.8 434.5 457.2 436.9 458.4 436.4 C459.6 435.9 461.9 431.8 463.3 432.3 C464.7 432.8 465.8 438.4 466.8 439.3 C467.8 440.2 468.6 437.3 469.4 437.5 C470.1 437.7 470.6 440.5 471.3 440.3 C472 440.1 472.6 436.8 473.6 436.4 C474.6 436 475.6 436.8 477.1 437.7 C478.7 438.6 481.6 441.6 482.9 441.6 C484.2 441.6 484.1 437.5 484.8 437.5 C485.6 437.5 486.2 442.1 487.4 441.6 C488.6 441.1 490.3 435.2 492.1 434.5 C493.9 433.8 497 436.2 498.3 437.1 C499.6 438 499.7 440 500.2 440 C500.7 440 501.1 444.9 501.5 437.1 L502.8 393.4 L504.5 442.9 C505.1 449.5 505.8 434.7 506.7 433.2 C507.6 431.7 508.7 433.1 509.9 433.9 C511.1 434.6 512.5 437.8 513.7 437.7 C514.9 437.6 515.9 433.7 517 433.2 C518.1 432.7 519.6 433.6 520.6 434.5 C521.6 435.4 522.4 442.5 523.1 438.4 L524.7 410.1 L526.4 441 C527.1 445.3 527.9 436.1 528.9 435.8 C529.9 435.5 531.2 438.9 532.1 439 C533 439.1 533.8 436.4 534.5 436.4 C535.2 436.4 535.8 438.8 536.6 438.8 C537.4 438.8 538.2 435.5 539.2 436.4 C540.2 437.3 541.4 443.2 542.4 444.2 C543.4 445.2 543.9 442.3 545 442.6 C546.1 442.9 547.7 445.6 548.9 446.1 C550.1 446.6 551 446 552.1 445.5 C553.2 445 554.2 442.9 555.3 442.9 C556.4 442.8 557.2 444.9 558.5 445.2 C559.8 445.4 561.6 445.2 563 444.4 C564.4 443.6 565.8 440.4 566.9 440.3 C568 440.2 568.5 443.3 569.4 443.5 C570.2 443.7 570.9 441.9 572 441.6 C573.1 441.3 574.7 442.2 575.9 441.6 C577.1 441 578.1 437.4 579.1 437.7 C580.1 438 580.7 442.3 581.7 443.5 C582.7 444.7 583.7 445.3 584.9 444.8 C586.1 444.3 587.4 440.4 588.7 440.3 C590 440.2 591.7 442.9 592.6 444.2 C593.5 445.4 593.6 452 594.1 447.8 L595.8 419.1 L597.5 447.6 C598.4 450.7 600.2 438.4 601.4 437.5 C602.6 436.6 603.6 441.7 604.6 442.3 C605.6 442.9 606.1 441.5 607.2 441.4 C608.3 441.3 609.9 442.1 611 441.7 C612.1 441.3 612.7 439 613.6 439.1 C614.5 439.2 615.2 442.1 616.2 442.3 C617.2 442.5 618.5 440.5 619.4 440.4 C620.2 440.2 620.5 441.7 621.3 441.4 C622 441.1 622.9 439.1 623.9 438.8 C624.9 438.5 626.1 439.3 627.1 439.7 C628.1 440.1 628.8 441.3 629.7 441.4 C630.6 441.5 631.2 440.9 632.3 440.4 C633.4 439.8 634.9 438 636.1 438.1 C637.3 438.2 638.3 440.7 639.4 441 C640.5 441.3 641.3 439.9 642.6 439.7 C643.9 439.5 645.8 439.9 647.1 439.7 C648.4 439.5 649.2 438.1 650.3 438.4 C651.4 438.7 652.5 441.6 653.5 441.7 C654.5 441.8 655.2 439 656.1 438.8 C657 438.6 657.4 440.6 658.7 440.6 C660 440.7 662.4 440.6 663.8 439.1 C665.2 437.6 666 431.4 667 431.4 C668 431.4 669 438.2 669.6 439.1 C670.2 440 670.2 436.7 670.9 436.5 C671.5 436.3 673.1 437.6 673.5 437.8" fill="none" stroke="#e86a45" stroke-width="1.15" stroke-linejoin="round"/>
<text x="367.3" y="391.7" class="yl">400</text>
<text x="367.3" y="415.2" class="yl">300</text>
<text x="367.3" y="438.8" class="yl">200</text>
<text x="367.3" y="462.1" class="yl">100</text>
<text x="367.3" y="485.4" class="yl">0</text>
<text x="371.6" y="491.2" class="xl">1 Jun</text>
<text x="404.7" y="491.2" class="xl">21 Jun</text>
<text x="437.7" y="491.2" class="xl">11 Jul</text>
<text x="470.8" y="491.2" class="xl">31 Jul</text>
<text x="503.9" y="491.2" class="xl">20 Aug</text>
<text x="537" y="491.2" class="xl">9 Sept</text>
<text x="570" y="491.2" class="xl">29 Sept</text>
<text x="603.1" y="491.2" class="xl">19 Oct</text>
<text x="636.2" y="491.2" class="xl">8 Nov</text>
<text x="669.2" y="491.2" class="xl">28 Nov</text>
<line x1="372.5" y1="378.2" x2="384" y2="378.2" stroke="#e86a45" stroke-width="1.3"/>
<text x="387" y="380.5" class="lg">Position</text>
<text x="69.78" y="44.90" font-size="16" fill="#3a3a3a" font-weight="normal" textLength="183.52" lengthAdjust="spacingAndGlyphs">Search Console Dashboard</text>
<text x="462.86" y="44.92" font-size="9.8" fill="#4e52b8" font-weight="normal" textLength="77.14" lengthAdjust="spacingAndGlyphs" stroke="#4e52b8" stroke-width="0.45">More Dashboard</text>
<text x="581.90" y="44.92" font-size="9.8" fill="#ffffff" font-weight="normal" textLength="79.78" lengthAdjust="spacingAndGlyphs" stroke="#ffffff" stroke-width="0.45">Setup Dashboard</text>
<text x="40.20" y="101.44" font-size="10" fill="#666666" font-weight="normal" textLength="27.95" lengthAdjust="spacingAndGlyphs">Filters</text>
<text x="116.62" y="101.52" font-size="10" fill="#555555" font-weight="normal" textLength="37.42" lengthAdjust="spacingAndGlyphs">Site URL</text>
<text x="290.86" y="101.52" font-size="10" fill="#555555" font-weight="normal" textLength="23.24" lengthAdjust="spacingAndGlyphs">Page</text>
<text x="469.20" y="99.44" font-size="9.2" fill="#333333" font-weight="normal" textLength="103.56" lengthAdjust="spacingAndGlyphs">1 Jun 2025 - 1 Dec 2025</text>
<text x="44.70" y="144.20" font-size="12.2" fill="#4a4a4a" font-weight="normal" textLength="82.00" lengthAdjust="spacingAndGlyphs" stroke="#4a4a4a" stroke-width="0.22">Seo Dashboard</text>
<text x="13.86" y="178.80" font-size="11" fill="#474747" font-weight="normal" textLength="109.98" lengthAdjust="spacingAndGlyphs" stroke="#474747" stroke-width="0.22">Impressions Dynamics</text>
<text x="359.00" y="178.76" font-size="11" fill="#474747" font-weight="normal" textLength="77.00" lengthAdjust="spacingAndGlyphs" stroke="#474747" stroke-width="0.22">Clicks Dynamics</text>
<text x="14.90" y="355.32" font-size="10.6" fill="#474747" font-weight="normal" textLength="69.18" lengthAdjust="spacingAndGlyphs" stroke="#474747" stroke-width="0.22">CTR Dynamics</text>
<text x="357.66" y="355.84" font-size="11" fill="#474747" font-weight="normal" textLength="133.02" lengthAdjust="spacingAndGlyphs" stroke="#474747" stroke-width="0.22">Average Position Dynamics</text>
</svg>
</body></html>
